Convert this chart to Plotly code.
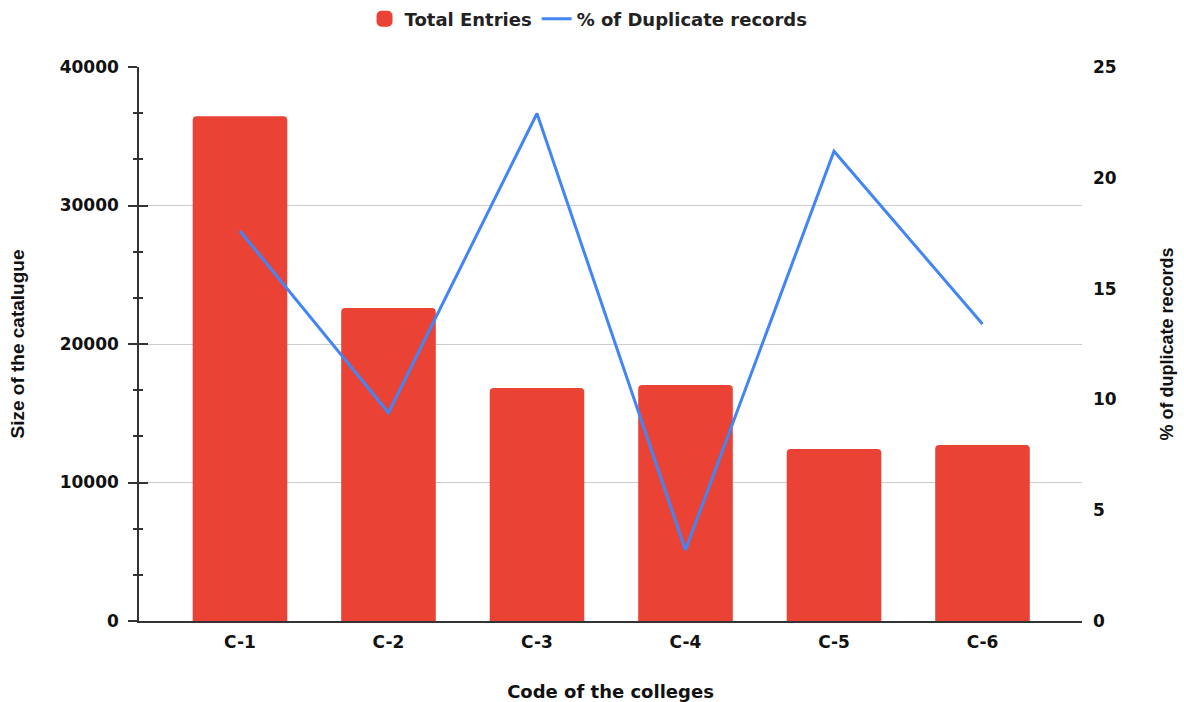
import plotly.graph_objects as go

colleges = ["C-1", "C-2", "C-3", "C-4", "C-5", "C-6"]
total_entries = [36300, 22450, 16680, 16900, 12270, 12560]
dup_percent = [17.6, 9.4, 22.9, 3.2, 21.2, 13.4]

HEAVY = "DejaVu Sans"
REG = "Liberation Sans"
INK = "#111111"

fig = go.Figure()
fig.add_trace(go.Bar(
    x=colleges, y=total_entries, name="Total Entries",
    marker=dict(color="#EA4335", line=dict(color="#EA4335", width=4)), width=0.61, yaxis="y",
))
fig.add_trace(go.Scatter(
    x=colleges, y=dup_percent, name="% of Duplicate records",
    mode="lines", line=dict(color="#4285F4", width=3), yaxis="y2",
))
# invisible trace to activate the crossing-tick overlay axis
fig.add_trace(go.Scatter(x=colleges, y=total_entries, yaxis="y3", mode="markers",
                         marker=dict(opacity=0), showlegend=False, hoverinfo="skip"))

fig.update_layout(
    width=1184, height=702,
    paper_bgcolor="white", plot_bgcolor="white",
    margin=dict(l=139, r=102, t=67, b=81, autoexpand=False),
    barcornerradius=2,
    showlegend=True,
    legend=dict(orientation="h", x=0.4767, xanchor="center",
                y=1 + 48 / 554, yanchor="middle",
                font=dict(family=HEAVY, size=18, color="#222", weight="bold")),
    xaxis=dict(
        range=[-0.68, 5.67], showgrid=False, showline=True, linecolor="#333", linewidth=1.5,
        ticks="", automargin=False, ticklabelstandoff=5,
        tickfont=dict(family=HEAVY, size=17, color=INK, weight="bold"),
        title=dict(text="Code of the colleges", standoff=34,
                   font=dict(family=HEAVY, size=18, color=INK, weight="bold")),
    ),
    yaxis=dict(
        range=[0, 40000], dtick=10000, tick0=0, tickformat="d",
        showgrid=True, gridcolor="#cccccc", gridwidth=1,
        showline=True, linecolor="#333", linewidth=1.5, zeroline=False,
        ticks="outside", ticklen=9, tickcolor="#333", tickwidth=1.5, automargin=False,
        ticklabelstandoff=6,
        minor=dict(dtick=10000 / 3, tick0=0, ticks="outside", ticklen=4, tickcolor="#333", showgrid=False),
        tickfont=dict(family=HEAVY, size=17, color=INK, weight="bold"),
        title=dict(text="Size of the catalugue", standoff=30,
                   font=dict(family=REG, size=19, color=INK, weight="bold")),
    ),
    yaxis3=dict(
        range=[0, 40000], dtick=10000, tick0=0, overlaying="y", side="left",
        showgrid=False, showline=False, zeroline=False, showticklabels=False, automargin=False,
        ticks="inside", ticklen=9, tickcolor="#333", tickwidth=1.5,
        minor=dict(dtick=10000 / 3, tick0=0, ticks="inside", ticklen=4, tickcolor="#333", showgrid=False),
    ),
    yaxis2=dict(
        range=[0, 25], dtick=5, overlaying="y", side="right", showgrid=False,
        zeroline=False, showline=False, ticks="", ticklabelstandoff=10, automargin=False,
        tickfont=dict(family=HEAVY, size=17, color=INK, weight="bold"),
        title=dict(text="% of duplicate records", standoff=44,
                   font=dict(family=REG, size=18, color=INK, weight="bold")),
    ),
)

fig.write_html("out.html", config={"displayModeBar": False},
               post_script="document.body.style.margin='0';")
